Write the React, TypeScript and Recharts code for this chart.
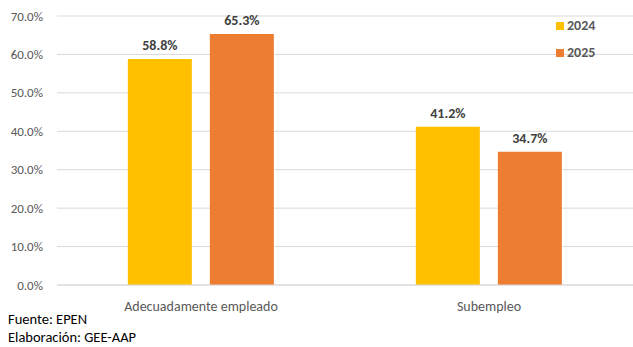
import React from 'react';
import { BarChart, Bar, XAxis, YAxis, CartesianGrid, LabelList } from 'recharts';

const categories = ['Adecuadamente empleado', 'Subempleo'];
const values2024 = [58.8, 41.2];
const values2025 = [65.3, 34.7];
const yTicks = [0, 10, 20, 30, 40, 50, 60, 70];

const data = categories.map((name, i) => ({ name, y2024: values2024[i], y2025: values2025[i] }));

const font = 'Carlito, "Liberation Sans", Arial, sans-serif';
const C2024 = '#FFC000';
const C2025 = '#ED7D31';

function LegendBox() {
  const items = [
    { label: '2024', color: C2024, top: 17 },
    { label: '2025', color: C2025, top: 44 },
  ];
  return (
    <>
      {items.map((it) => (
        <div key={it.label} style={{ position: 'absolute', left: 556, top: it.top, display: 'flex', alignItems: 'center', fontFamily: font, fontWeight: 'bold', fontSize: 14, color: '#595959' }}>
          <span style={{ width: 8, height: 8, background: it.color, marginRight: 3, display: 'inline-block' }} />
          {it.label}
        </div>
      ))}
    </>
  );
}

export default function App() {
  return (
    <div style={{ position: 'absolute', left: 0, top: 0, width: 633, height: 347, background: '#fff' }}>
      <BarChart
        width={633}
        height={347}
        data={data}
        margin={{ top: 16, right: 0, left: 0, bottom: 32 }}
        barCategoryGap="24.6%"
        barGap={18}
      >
        <CartesianGrid vertical={false} stroke="#d9d9d9" />
        <XAxis
          dataKey="name"
          height={30}
          axisLine={{ stroke: '#d9d9d9' }}
          tickLine={false}
          tick={{ fill: '#595959', fontSize: 14, fontFamily: font }}
          tickMargin={10}
        />
        <YAxis
          width={57}
          domain={[0, 70]}
          ticks={yTicks}
          axisLine={false}
          tickLine={false}
          tickMargin={8}
          tickFormatter={(v: number) => `${v.toFixed(1)}%`}
          tick={{ fill: '#595959', fontSize: 13, fontFamily: font }}
        />
        <Bar dataKey="y2024" fill={C2024} isAnimationActive={false}>
          <LabelList dataKey="y2024" position="top" offset={9} formatter={(v: number) => `${v.toFixed(1)}%`} style={{ fill: '#404040', fontWeight: 'bold', fontSize: 14, fontFamily: font }} />
        </Bar>
        <Bar dataKey="y2025" fill={C2025} isAnimationActive={false}>
          <LabelList dataKey="y2025" position="top" offset={9} formatter={(v: number) => `${v.toFixed(1)}%`} style={{ fill: '#404040', fontWeight: 'bold', fontSize: 14, fontFamily: font }} />
        </Bar>
      </BarChart>
      <LegendBox />
      <div style={{ position: 'absolute', left: 8, top: 310, fontFamily: font, fontSize: 14.5, color: '#000', lineHeight: '18px' }}>
        <div>Fuente: EPEN</div>
        <div>Elaboración: GEE-AAP</div>
      </div>
    </div>
  );
}
